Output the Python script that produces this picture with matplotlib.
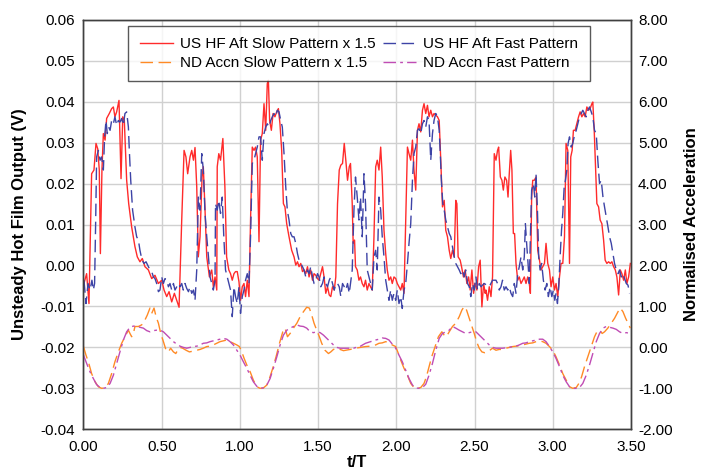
import matplotlib
matplotlib.use("Agg")
import matplotlib.pyplot as plt

plt.rcParams['font.family'] = ['Liberation Sans', 'DejaVu Sans']

# US HF Aft Slow Pattern x 1.5 (left axis, V)
t_slow_hf = [0.003, 0.020, 0.035, 0.052, 0.067, 0.080, 0.091, 0.101, 0.108, 0.118, 0.127, 0.138, 0.148, 0.165, 0.180, 0.191, 0.201, 0.212, 0.227, 0.240,
             0.251, 0.261, 0.276, 0.289, 0.308, 0.329, 0.344, 0.361, 0.376, 0.393, 0.415, 0.436, 0.457, 0.479, 0.500, 0.515, 0.532, 0.547, 0.564, 0.581,
             0.596, 0.611, 0.628, 0.643, 0.655, 0.666, 0.681, 0.692, 0.703, 0.713, 0.724, 0.734, 0.745, 0.758, 0.766, 0.777, 0.788, 0.805, 0.820, 0.830,
             0.841, 0.852,
             0.855, 0.865, 0.876, 0.891, 0.904, 0.915, 0.929, 0.940, 0.951, 0.962, 0.972, 0.983, 0.994, 1.004, 1.015, 1.026, 1.036, 1.047, 1.058, 1.068,
             1.079, 1.090, 1.100, 1.111, 1.122, 1.132, 1.143, 1.154, 1.165, 1.175, 1.182, 1.190, 1.201, 1.212, 1.224, 1.235, 1.246, 1.256, 1.267, 1.278,
             1.288, 1.299, 1.314, 1.331, 1.346, 1.357, 1.368, 1.378, 1.389, 1.400, 1.410, 1.421, 1.432, 1.442, 1.453, 1.464, 1.474, 1.485, 1.496, 1.506,
             1.517, 1.528, 1.538, 1.549, 1.560, 1.571, 1.581, 1.592, 1.603, 1.613, 1.624, 1.635, 1.645, 1.656, 1.667, 1.677, 1.688, 1.699,
             1.707, 1.718, 1.724, 1.733, 1.739, 1.750, 1.761, 1.771, 1.782, 1.793, 1.803, 1.814, 1.825, 1.835, 1.846, 1.857, 1.868, 1.878, 1.889, 1.900,
             1.910, 1.921, 1.932, 1.942, 1.953, 1.964, 1.974, 1.985, 1.996, 2.006, 2.017, 2.028, 2.038, 2.049, 2.060, 2.071, 2.081, 2.092, 2.103, 2.113,
             2.124, 2.135, 2.145, 2.156, 2.167, 2.177, 2.188, 2.199, 2.209, 2.220, 2.231, 2.241, 2.252, 2.263, 2.274, 2.284, 2.295, 2.306, 2.316, 2.327,
             2.338, 2.348, 2.359, 2.370, 2.380, 2.387, 2.395, 2.408, 2.417, 2.429, 2.440, 2.451, 2.462, 2.472, 2.483, 2.494, 2.502, 2.515, 2.526, 2.536,
             2.547, 2.558, 2.568,
             2.573, 2.583, 2.594, 2.605, 2.615, 2.626, 2.637, 2.647, 2.654, 2.665, 2.675, 2.684, 2.694, 2.705, 2.714, 2.722, 2.731, 2.739, 2.748, 2.756,
             2.765, 2.776, 2.786, 2.797, 2.808, 2.818, 2.829, 2.840, 2.850, 2.857, 2.865, 2.872, 2.882, 2.893, 2.904, 2.915, 2.925, 2.936, 2.947, 2.957,
             2.968, 2.979, 2.989, 3.000, 3.011, 3.021, 3.032, 3.043, 3.053, 3.064, 3.075, 3.085, 3.096, 3.107, 3.115, 3.124, 3.132, 3.143, 3.154, 3.165,
             3.175, 3.186, 3.197, 3.207, 3.218, 3.229, 3.239, 3.250, 3.256, 3.265, 3.274, 3.282, 3.293, 3.303, 3.314, 3.325, 3.335, 3.346, 3.357, 3.368,
             3.378, 3.389, 3.400, 3.410, 3.421, 3.432, 3.442, 3.453, 3.464, 3.474, 3.485, 3.496]
v_slow_hf = [-0.0044, -0.0020, -0.0093, 0.0224, 0.0233, 0.0298, 0.0285, 0.0233, 0.0029, 0.0233, 0.0322, 0.0306, 0.0359, 0.0371, 0.0383, 0.0387, 0.0363, 0.0375, 0.0403, 0.0212,
             0.0363, 0.0354, 0.0208, 0.0151, 0.0094, 0.0046, 0.0021, 0.0009, 0.0017, -0.0003, -0.0011, -0.0032, -0.0024, -0.0044, -0.0036, -0.0060, -0.0076, -0.0064, -0.0089, -0.0068,
             -0.0085, -0.0102, 0.0111, 0.0281, 0.0265, 0.0224, 0.0265, 0.0281, 0.0257, 0.0288, 0.0192, 0.0021, 0.0070, 0.0216, 0.0241, 0.0135, 0.0021, -0.0028, -0.0011, -0.0052,
             -0.0028, -0.0060,
             0.0241, 0.0273, 0.0257, 0.0310, 0.0192, 0.0021, -0.0011, -0.0020, -0.0036, -0.0020, -0.0015, -0.0015, -0.0040, -0.0085, -0.0052, -0.0044, -0.0076, -0.0036, -0.0076, 0.0111,
             0.0289, 0.0281, 0.0289, 0.0265, 0.0058, 0.0306, 0.0322, 0.0395, 0.0330, 0.0444, 0.0452, 0.0354, 0.0330, 0.0371, 0.0363, 0.0375, 0.0383, 0.0346, 0.0281, 0.0151,
             0.0143, 0.0102, 0.0070, 0.0037, 0.0021, 0.0001, 0.0009, -0.0003, 0.0005, -0.0015, -0.0011, -0.0020, -0.0003, -0.0028, -0.0011, -0.0036, -0.0020, -0.0024, -0.0032, -0.0036,
             -0.0020, -0.0003, -0.0028, -0.0068, -0.0052, -0.0072, -0.0076, -0.0052, -0.0060, -0.0028, 0.0151, 0.0233, 0.0245, 0.0249, 0.0298, 0.0257, 0.0208, 0.0241,
             0.0249, 0.0151, 0.0054, 0.0062, -0.0003, -0.0011, -0.0036, -0.0028, -0.0044, -0.0052, -0.0036, -0.0060, -0.0044, -0.0052, -0.0060, 0.0070, 0.0241, 0.0257, 0.0233, 0.0289,
             0.0216, 0.0086, 0.0029, -0.0011, -0.0036, -0.0028, -0.0044, -0.0028, -0.0032, -0.0044, -0.0052, -0.0060, -0.0044, -0.0068, 0.0111, 0.0289, 0.0273, 0.0257, 0.0306, 0.0233,
             0.0184, 0.0330, 0.0346, 0.0326, 0.0379, 0.0395, 0.0371, 0.0391, 0.0363, 0.0379, 0.0363, 0.0371, 0.0367, 0.0363, 0.0354, 0.0257, 0.0143, 0.0159, 0.0086, 0.0070,
             0.0037, 0.0017, 0.0037, 0.0021, 0.0159, 0.0151, 0.0021, 0.0013, -0.0003, -0.0028, -0.0011, -0.0044, -0.0028, -0.0060, -0.0011, -0.0068, -0.0044, -0.0060, -0.0003, 0.0013,
             -0.0101, -0.0044, -0.0068,
             -0.0060, -0.0085, -0.0052, -0.0076, -0.0028, 0.0273, 0.0257, 0.0281, 0.0289, 0.0216, 0.0208, 0.0184, 0.0216, 0.0208, 0.0167, 0.0224, 0.0281, 0.0233, 0.0078, 0.0078,
             0.0005, -0.0036, -0.0028, -0.0044, -0.0036, -0.0028, -0.0044, -0.0028, -0.0044, -0.0068, 0.0167, 0.0208, 0.0208, 0.0216, 0.0037, 0.0013, -0.0011, -0.0003, 0.0005, 0.0054,
             0.0005, -0.0011, -0.0052, -0.0028, -0.0060, -0.0044, -0.0076, -0.0028, 0.0005, 0.0005, 0.0070, 0.0298, 0.0281, 0.0005, 0.0265, 0.0281, 0.0330, 0.0330, 0.0346, 0.0363,
             0.0375, 0.0363, 0.0371, 0.0363, 0.0387, 0.0379, 0.0383, 0.0395, 0.0399, 0.0330, 0.0233, 0.0151, 0.0143, 0.0111, 0.0102, 0.0062, 0.0013, 0.0005, 0.0009, 0.0005,
             0.0009, -0.0003, -0.0011, -0.0028, -0.0072, -0.0011, -0.0020, -0.0036, -0.0011, -0.0044, -0.0028, 0.0005]

# US HF Aft Fast Pattern (left axis, V)
t_fast_hf = [0.003, 0.016, 0.029, 0.042, 0.054, 0.063, 0.071, 0.078, 0.084, 0.095, 0.106, 0.116, 0.127, 0.135, 0.144, 0.152, 0.161, 0.170, 0.180, 0.191,
             0.201, 0.212, 0.223, 0.233, 0.244, 0.255, 0.265, 0.276, 0.287, 0.293, 0.302, 0.314, 0.329, 0.340, 0.351, 0.361, 0.374, 0.387, 0.400, 0.415,
             0.425, 0.436, 0.447, 0.457, 0.468, 0.479, 0.489, 0.500, 0.511, 0.521, 0.532, 0.543, 0.553, 0.564, 0.575, 0.585, 0.596, 0.607, 0.617, 0.628,
             0.638, 0.649, 0.660, 0.671, 0.681, 0.692, 0.703, 0.713, 0.724, 0.734, 0.745, 0.756, 0.766, 0.777, 0.788, 0.799, 0.809, 0.820, 0.830, 0.841,
             0.844, 0.855, 0.865, 0.876, 0.887, 0.897, 0.908, 0.919, 0.929, 0.940, 0.951, 0.962, 0.972, 0.983, 0.994, 1.004, 1.015, 1.026, 1.036, 1.047,
             1.058, 1.068, 1.079, 1.090, 1.100, 1.111, 1.122, 1.132, 1.143, 1.154, 1.165, 1.175, 1.186, 1.197, 1.207, 1.218, 1.229, 1.239, 1.250, 1.261,
             1.271, 1.282, 1.293, 1.303, 1.314, 1.325, 1.335, 1.346, 1.357, 1.368, 1.378, 1.389, 1.400, 1.410, 1.421, 1.432, 1.442, 1.453, 1.464, 1.474,
             1.485, 1.496, 1.506, 1.517, 1.528, 1.538, 1.549, 1.560, 1.571, 1.581, 1.592, 1.603, 1.613, 1.624, 1.635, 1.645, 1.656, 1.667, 1.677, 1.688,
             1.699,
             1.718, 1.729, 1.739, 1.750, 1.761, 1.771, 1.782, 1.793, 1.803, 1.814, 1.825, 1.835, 1.846, 1.857, 1.868, 1.878, 1.889, 1.900, 1.910, 1.921,
             1.932, 1.942, 1.953, 1.964, 1.974, 1.985, 1.996, 2.006, 2.017, 2.028, 2.038, 2.049, 2.060, 2.071, 2.081, 2.092, 2.103, 2.113, 2.124, 2.135,
             2.145, 2.156, 2.167, 2.177, 2.188, 2.199, 2.209, 2.220, 2.231, 2.241, 2.252, 2.263, 2.274, 2.280, 2.288, 2.297, 2.306, 2.316, 2.327, 2.338,
             2.348, 2.359, 2.370, 2.380, 2.391, 2.402, 2.412, 2.423, 2.434, 2.444, 2.455, 2.466, 2.476, 2.487, 2.498, 2.509, 2.519, 2.530, 2.541, 2.551,
             2.562,
             2.594, 2.615, 2.637, 2.647, 2.658, 2.669, 2.679, 2.690, 2.701, 2.712, 2.722, 2.733, 2.744, 2.754, 2.765, 2.776, 2.786, 2.797, 2.808, 2.818,
             2.825, 2.833, 2.842, 2.850, 2.857, 2.865, 2.876, 2.885, 2.893, 2.902, 2.910, 2.919, 2.929, 2.940, 2.951, 2.962, 2.972, 2.983, 2.994, 3.004,
             3.013, 3.021, 3.030, 3.038, 3.047, 3.056, 3.064, 3.073, 3.081, 3.090, 3.098, 3.107, 3.118, 3.128, 3.139, 3.150, 3.160, 3.171, 3.182, 3.192,
             3.203, 3.214, 3.224, 3.235, 3.246, 3.256, 3.267, 3.278, 3.288, 3.299, 3.310, 3.321, 3.331, 3.342, 3.353, 3.363, 3.374, 3.385, 3.395, 3.406,
             3.417, 3.427, 3.438, 3.449, 3.459, 3.470, 3.481, 3.491]
v_fast_hf = [-0.0036, -0.0093, -0.0044, -0.0060, -0.0036, -0.0060, -0.0044, 0.0111, 0.0265, 0.0281, 0.0257, 0.0265, 0.0233, 0.0314, 0.0354, 0.0322, 0.0338, 0.0330, 0.0354, 0.0346,
             0.0363, 0.0342, 0.0354, 0.0350, 0.0359, 0.0342, 0.0371, 0.0375, 0.0338, 0.0281, 0.0208, 0.0135, 0.0094, 0.0070, 0.0062, 0.0037, 0.0013, 0.0005, 0.0009, -0.0003,
             -0.0011, -0.0015, -0.0028, -0.0032, -0.0044, -0.0064, -0.0060, -0.0028, -0.0044, -0.0032, -0.0036, -0.0052, -0.0044, -0.0060, -0.0044, -0.0060, -0.0052, -0.0044, -0.0052, -0.0044,
             -0.0060, -0.0044, -0.0056, -0.0064, -0.0052, -0.0068, -0.0060, -0.0085, -0.0011, 0.0167, 0.0135, 0.0273, 0.0233, 0.0127, 0.0070, 0.0021, -0.0028, -0.0044, -0.0060, -0.0036,
             0.0151, 0.0135, 0.0159, 0.0127, 0.0167, 0.0070, -0.0011, -0.0028, -0.0044, -0.0060, -0.0125, -0.0052, -0.0076, -0.0093, -0.0052, -0.0117, -0.0076, -0.0060, -0.0036, -0.0020,
             -0.0044, 0.0070, 0.0249, 0.0257, 0.0273, 0.0289, 0.0314, 0.0314, 0.0257, 0.0322, 0.0338, 0.0346, 0.0338, 0.0354, 0.0363, 0.0371, 0.0363, 0.0379, 0.0375, 0.0354,
             0.0338, 0.0273, 0.0192, 0.0135, 0.0111, 0.0078, 0.0070, 0.0070, 0.0054, 0.0029, 0.0013, 0.0005, -0.0003, -0.0011, -0.0028, -0.0011, -0.0020, -0.0003, -0.0028, -0.0044,
             -0.0036, -0.0020, -0.0028, -0.0052, -0.0044, -0.0028, -0.0044, -0.0052, -0.0036, -0.0028, -0.0044, -0.0060, -0.0044, -0.0044, -0.0052, -0.0076, -0.0044, -0.0052, -0.0060, -0.0044,
             -0.0068,
             -0.0011, 0.0135, 0.0216, 0.0167, 0.0111, 0.0167, 0.0070, 0.0224, 0.0151, -0.0011, -0.0028, -0.0044, -0.0060, 0.0021, 0.0037, -0.0011, 0.0167, 0.0135, 0.0070, 0.0021,
             -0.0036, -0.0060, -0.0085, -0.0060, -0.0085, -0.0068, -0.0085, -0.0060, -0.0093, -0.0076, -0.0105, -0.0060, -0.0044, 0.0005, 0.0054, 0.0102, 0.0208, 0.0273, 0.0289, 0.0330,
             0.0334, 0.0322, 0.0346, 0.0354, 0.0338, 0.0363, 0.0354, 0.0257, 0.0322, 0.0354, 0.0371, 0.0363, 0.0330, 0.0281, 0.0208, 0.0151, 0.0135, 0.0111, 0.0094, 0.0078,
             0.0070, 0.0046, 0.0021, 0.0005, -0.0003, -0.0011, -0.0020, -0.0011, -0.0028, -0.0011, -0.0044, -0.0052, -0.0076, -0.0044, -0.0060, -0.0028, -0.0060, -0.0044, -0.0052, -0.0048,
             -0.0044,
             -0.0052, -0.0036, -0.0036, -0.0044, -0.0060, -0.0052, -0.0036, -0.0060, -0.0052, -0.0060, -0.0052, -0.0068, -0.0076, -0.0044, -0.0068, -0.0020, -0.0003, 0.0021, -0.0011, 0.0021,
             0.0102, 0.0054, 0.0005, -0.0044, 0.0070, 0.0184, 0.0200, 0.0167, 0.0224, 0.0135, 0.0021, -0.0011, 0.0005, -0.0036, -0.0060, -0.0044, -0.0076, -0.0052, -0.0076, -0.0060,
             -0.0085, -0.0068, -0.0093, -0.0052, 0.0021, 0.0086, 0.0127, 0.0192, 0.0208, 0.0233, 0.0298, 0.0314, 0.0289, 0.0298, 0.0318, 0.0330, 0.0346, 0.0363, 0.0371, 0.0379,
             0.0371, 0.0363, 0.0379, 0.0387, 0.0375, 0.0363, 0.0330, 0.0322, 0.0257, 0.0200, 0.0208, 0.0167, 0.0143, 0.0119, 0.0094, 0.0070, 0.0054, 0.0029, 0.0005, -0.0011,
             -0.0020, -0.0011, -0.0028, -0.0020, -0.0032, -0.0044, -0.0048, -0.0068]

# ND Accn Slow Pattern x 1.5 (right axis)
t_slow_acc = [0.000, 0.016, 0.031, 0.052, 0.074, 0.095, 0.116, 0.138, 0.159, 0.180, 0.201, 0.223, 0.244, 0.265, 0.287, 0.297, 0.308, 0.319, 0.329, 0.351,
              0.372, 0.393, 0.408, 0.425, 0.436, 0.451, 0.464, 0.479, 0.494, 0.511, 0.528, 0.543, 0.557, 0.575, 0.590, 0.602, 0.617, 0.634, 0.656, 0.677,
              0.703, 0.724, 0.745, 0.766, 0.788, 0.809, 0.830, 0.852, 0.873, 0.894, 0.916, 0.937, 0.958, 0.980, 0.997, 1.012, 1.027, 1.044, 1.066, 1.086,
              1.108, 1.129, 1.150, 1.172, 1.189, 1.210, 1.231, 1.253, 1.274, 1.289, 1.304, 1.321, 1.342, 1.364, 1.385, 1.406, 1.427, 1.444, 1.459, 1.474,
              1.491, 1.508, 1.523, 1.544, 1.566, 1.581, 1.598, 1.619, 1.662, 1.705,
              1.739, 1.771, 1.803, 1.835, 1.868, 1.889, 1.910, 1.932, 1.953, 1.974, 1.996, 2.013, 2.028, 2.049, 2.071, 2.092, 2.113, 2.135, 2.156, 2.177,
              2.192, 2.209, 2.226, 2.248, 2.269, 2.291, 2.306, 2.320, 2.338, 2.359, 2.380, 2.402, 2.419, 2.434, 2.449, 2.466, 2.483, 2.498, 2.513, 2.530,
              2.547, 2.564, 2.583, 2.598, 2.615, 2.637, 2.658, 2.679, 2.701, 2.722, 2.744, 2.765, 2.786, 2.808, 2.829, 2.850, 2.872, 2.893, 2.915, 2.936,
              2.957, 2.979, 3.000, 3.021, 3.043, 3.064, 3.086, 3.107, 3.128, 3.150, 3.167, 3.184, 3.203, 3.224, 3.246, 3.267, 3.282, 3.299, 3.316, 3.331,
              3.352, 3.374, 3.395, 3.417, 3.432, 3.449, 3.466, 3.481, 3.496]
a_slow_acc = [0.02, -0.19, -0.35, -0.64, -0.84, -0.96, -1.00, -0.99, -0.88, -0.64, -0.35, -0.11, 0.10, 0.26, 0.42, 0.34, 0.26, 0.34, 0.51, 0.51,
              0.55, 0.67, 0.79, 0.96, 0.83, 0.96, 0.75, 0.59, 0.34, 0.14, -0.07, -0.11, -0.02, -0.11, -0.15, -0.07, 0.00, -0.02, -0.07, -0.11,
              -0.09, -0.07, -0.05, -0.02, 0.02, 0.03, 0.06, 0.10, 0.14, 0.16, 0.18, 0.14, 0.10, 0.06, 0.02, -0.11, -0.27, -0.43, -0.60, -0.80,
              -0.96, -1.00, -0.99, -0.92, -0.76, -0.51, -0.23, 0.10, 0.38, 0.47, 0.26, 0.34, 0.47, 0.59, 0.75, 0.87, 0.98, 0.96, 0.79, 0.59,
              0.42, 0.26, 0.10, -0.07, -0.15, -0.11, -0.05, -0.02, -0.08, -0.05,
              -0.02, 0.00, 0.02, 0.03, 0.06, 0.10, 0.11, 0.14, 0.11, 0.06, 0.02, -0.15, -0.31, -0.51, -0.68, -0.88, -0.98, -1.00, -0.98, -0.88,
              -0.72, -0.47, -0.23, 0.02, 0.26, 0.38, 0.30, 0.26, 0.38, 0.51, 0.59, 0.75, 0.91, 1.00, 0.91, 0.71, 0.51, 0.34, 0.14, -0.02,
              -0.11, -0.13, -0.11, -0.07, -0.02, -0.07, -0.05, -0.05, -0.02, 0.00, 0.02, 0.03, 0.04, 0.06, 0.08, 0.10, 0.11, 0.14, 0.16, 0.14,
              0.10, 0.02, -0.07, -0.23, -0.43, -0.64, -0.80, -0.96, -1.00, -0.98, -0.88, -0.72, -0.47, -0.23, 0.02, 0.26, 0.38, 0.42, 0.34, 0.38,
              0.47, 0.59, 0.71, 0.87, 0.96, 0.87, 0.71, 0.59, 0.47]

# ND Accn Fast Pattern (right axis)
t_fast_acc = [0.000, 0.020, 0.042, 0.063, 0.084, 0.106, 0.127, 0.148, 0.170, 0.191, 0.212, 0.233, 0.255, 0.276, 0.297, 0.319, 0.340, 0.361, 0.383, 0.404,
              0.425, 0.447, 0.468, 0.489, 0.511, 0.532, 0.553, 0.575, 0.596, 0.617, 0.638, 0.660, 0.681, 0.703, 0.724, 0.745, 0.766, 0.788, 0.809, 0.830,
              0.852, 0.873, 0.894, 0.916, 0.937, 0.958, 0.980, 1.001, 1.022, 1.044, 1.065, 1.086, 1.108, 1.129, 1.150, 1.172, 1.193, 1.214, 1.236, 1.257,
              1.278, 1.300, 1.321, 1.342, 1.364, 1.385, 1.406, 1.427, 1.449, 1.470, 1.491, 1.513, 1.534, 1.555, 1.577, 1.598, 1.619, 1.641, 1.683, 1.726,
              1.771, 1.803, 1.835, 1.868, 1.889, 1.910, 1.932, 1.953, 1.974, 1.996, 2.017, 2.038, 2.060, 2.081, 2.103, 2.124, 2.145, 2.167, 2.188, 2.209,
              2.231, 2.252, 2.274, 2.295, 2.316, 2.338, 2.359, 2.380, 2.402, 2.423, 2.444, 2.466, 2.487, 2.509, 2.530, 2.551, 2.573, 2.594, 2.615, 2.637,
              2.679, 2.722, 2.744, 2.765, 2.786, 2.808, 2.829, 2.850, 2.872, 2.893, 2.915, 2.936, 2.957, 2.979, 3.000, 3.021, 3.043, 3.064, 3.086, 3.107,
              3.128, 3.150, 3.171, 3.192, 3.214, 3.235, 3.256, 3.278, 3.299, 3.321, 3.342, 3.363, 3.385, 3.406, 3.427, 3.449, 3.470, 3.496]
a_fast_acc = [-0.19, -0.39, -0.60, -0.76, -0.91, -0.98, -1.00, -0.98, -0.88, -0.68, -0.39, -0.11, 0.18, 0.38, 0.49, 0.52, 0.51, 0.49, 0.47, 0.41,
              0.38, 0.41, 0.42, 0.42, 0.38, 0.30, 0.22, 0.14, 0.08, 0.03, 0.00, -0.02, 0.00, 0.02, 0.03, 0.06, 0.10, 0.11, 0.14, 0.16,
              0.18, 0.20, 0.22, 0.20, 0.14, 0.06, -0.07, -0.19, -0.35, -0.51, -0.68, -0.84, -0.95, -1.00, -0.99, -0.92, -0.76, -0.51, -0.23, 0.06,
              0.30, 0.42, 0.47, 0.51, 0.55, 0.52, 0.51, 0.47, 0.38, 0.36, 0.38, 0.36, 0.30, 0.22, 0.14, 0.06, 0.00, -0.02, -0.02, -0.02,
              0.03, 0.10, 0.14, 0.18, 0.20, 0.23, 0.22, 0.18, 0.08, -0.02, -0.19, -0.35, -0.56, -0.76, -0.92, -0.99, -1.00, -0.98, -0.90, -0.68,
              -0.39, -0.07, 0.22, 0.34, 0.38, 0.42, 0.51, 0.47, 0.42, 0.38, 0.34, 0.36, 0.38, 0.38, 0.30, 0.22, 0.14, 0.06, 0.00, -0.02,
              -0.02, 0.00, 0.02, 0.03, 0.06, 0.10, 0.11, 0.14, 0.16, 0.18, 0.20, 0.20, 0.14, 0.02, -0.11, -0.27, -0.47, -0.68, -0.84, -0.96,
              -1.00, -1.00, -0.98, -0.88, -0.68, -0.43, -0.15, 0.14, 0.34, 0.47, 0.51, 0.49, 0.47, 0.44, 0.38, 0.34, 0.36, 0.34]

xticks = [0.0, 0.5, 1.0, 1.5, 2.0, 2.5, 3.0, 3.5]
yticks_left = [-0.04, -0.03, -0.02, -0.01, 0.00, 0.01, 0.02, 0.03, 0.04, 0.05, 0.06]
yticks_right = [-2, -1, 0, 1, 2, 3, 4, 5, 6, 7, 8]

fig = plt.figure(figsize=(7.01, 4.74), dpi=100)
ax = fig.add_axes([0.1191, 0.0943, 0.7810, 0.8641])
ax2 = ax.twinx()

l1, = ax.plot(t_slow_hf, v_slow_hf, color='#ff2b2b', lw=1.0, label='US HF Aft Slow Pattern x 1.5')
l2, = ax.plot(t_fast_hf, v_fast_hf, color='#3d43a6', lw=1.0, dashes=(9, 4), label='US HF Aft Fast Pattern')
l3, = ax2.plot(t_slow_acc, a_slow_acc, color='#ff8a25', lw=1.0, dashes=(9, 4), label='ND Accn Slow Pattern x 1.5')
l4, = ax2.plot(t_fast_acc, a_fast_acc, color='#c04cb4', lw=1.0, dashes=(9, 3, 2, 3), label='ND Accn Fast Pattern')

ax.set_xlim(0, 3.5)
ax.set_ylim(-0.04, 0.06)
ax2.set_ylim(-2, 8)
ax.set_xticks(xticks)
ax.set_yticks(yticks_left)
ax2.set_yticks(yticks_right)
ax.set_xticklabels(['%.2f' % x for x in xticks])
ax.set_yticklabels(['%.2f' % y for y in yticks_left])
ax2.set_yticklabels(['%.2f' % y for y in yticks_right])

ax.grid(True, color='#d0d0d0', lw=1.0)
ax.set_axisbelow(True)
ax.tick_params(axis='both', length=0, labelsize=11, colors='black')
ax.tick_params(axis='y', pad=6)
ax.tick_params(axis='x', pad=8)
ax2.tick_params(axis='y', length=0, labelsize=11, pad=5, colors='black')
for a in (ax, ax2):
    for s in a.spines.values():
        s.set_color('#404040')
        s.set_linewidth(1.0)

ax.set_xlabel('t/T', fontsize=12, fontweight='bold')
ax.set_ylabel('Unsteady Hot Film Output (V)', fontsize=12, fontweight='bold')
ax2.set_ylabel('Normalised Acceleration', fontsize=12, fontweight='bold')
ax.xaxis.set_label_coords(0.5, -0.062)
ax.yaxis.set_label_coords(-0.104, 0.5)
ax2.yaxis.set_label_coords(1.097, 0.5)

leg = ax2.legend([l1, l3, l2, l4], [l1.get_label(), l3.get_label(), l2.get_label(), l4.get_label()],
                 ncol=2, loc='upper center', bbox_to_anchor=(0.503, 0.985), borderaxespad=0, fontsize=11,
                 frameon=True, fancybox=False, edgecolor='#303030', handlelength=2.2,
                 columnspacing=0.45, handletextpad=0.45, labelspacing=0.3, borderpad=0.75)
leg.get_frame().set_linewidth(1.0)

fig.savefig('out.png', dpi=100)
